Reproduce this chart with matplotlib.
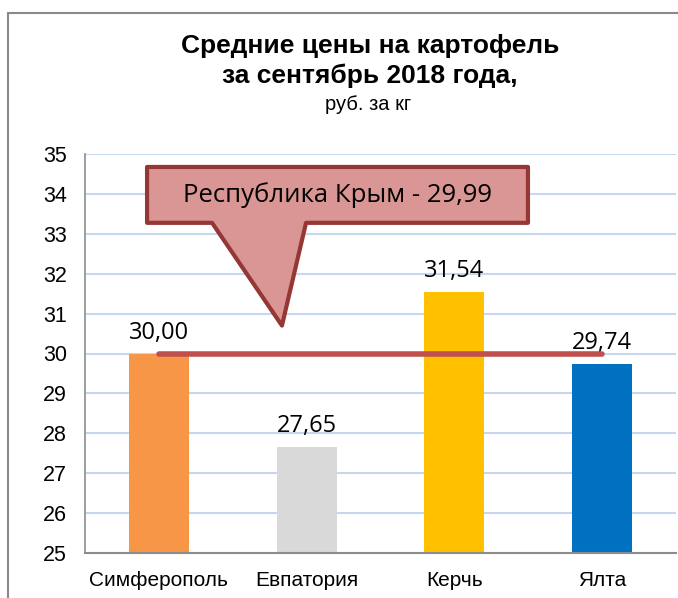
import matplotlib.pyplot as plt
import matplotlib.patches as patches
import numpy as np

# data
cities = ['Симферополь', 'Евпатория', 'Керчь', 'Ялта']
prices = [30.00, 27.65, 31.54, 29.74]
price_labels = ['30,00', '27,65', '31,54', '29,74']
bar_colors = ['#F79646', '#D9D9D9', '#FFC000', '#0070C0']
crimea_avg = 29.99
crimea_label = 'Республика Крым - 29,99'

fig = plt.figure(figsize=(6.78, 5.98), dpi=100)
ax = fig.add_axes([85/678, 45/598, 591/678, 399/598])

x = np.arange(len(cities))
ax.bar(x, prices, width=0.405, color=bar_colors, zorder=2, bottom=0)

ax.set_ylim(25, 35)
ax.set_xlim(-0.5, 3.5)
ax.set_yticks(range(25, 36))
ax.set_xticks(x)
ax.set_xticklabels(cities, fontsize=15, family='Liberation Sans')
for lbl in ax.get_yticklabels():
    lbl.set_family('Liberation Sans')
    lbl.set_fontsize(15.5)
ax.tick_params(axis='y', length=0, pad=13)
ax.tick_params(axis='x', length=0, pad=13)
ax.grid(axis='y', color='#C6D7EE', lw=1.5, zorder=0)
for s in ['top', 'right']:
    ax.spines[s].set_visible(False)
ax.spines['left'].set_color('#8C8C8C')
ax.spines['bottom'].set_color('#8C8C8C')
ax.spines['left'].set_linewidth(1.2)
ax.spines['bottom'].set_linewidth(1.5)

# value labels
for xi, p, t in zip(x, prices, price_labels):
    ax.text(xi, p + 0.22, t, ha='center', va='bottom', fontsize=17,
            family='Open Sans', color='black')

# average line
ax.plot([x[0], x[-1]], [crimea_avg, crimea_avg], color='#C0504D', lw=4,
        solid_capstyle='round', zorder=3)

# callout box
x0, x1, yt, yb = -0.08, 2.498, 34.675, 33.275
b1, b2, tx, ty = 0.36, 0.996, 0.833, 30.7
verts = [(x0, yt), (x1, yt), (x1, yb), (b2, yb), (tx, ty), (b1, yb), (x0, yb)]
call = patches.Polygon(verts, closed=True, facecolor='#D99694', edgecolor='#953735',
                       lw=3, joinstyle='round', zorder=4)
ax.add_patch(call)
ax.text((x0 + x1) / 2, (yt + yb) / 2, crimea_label, ha='center', va='center',
        fontsize=18.5, family='Open Sans', zorder=5)

# titles
fig.text(370/678, 1 - 46/598, 'Средние цены на картофель', ha='center', va='center',
         fontsize=19, fontweight='bold', family='Liberation Sans')
fig.text(370/678, 1 - 76/598, 'за сентябрь 2018 года,', ha='center', va='center',
         fontsize=19, fontweight='bold', family='Liberation Sans')
fig.text(368/678, 1 - 104/598, 'руб. за кг', ha='center', va='center',
         fontsize=14.5, family='Liberation Sans')

# chart area frame
frame = patches.Rectangle((8/678, -0.1), 1.2, 1 - 13/598 + 0.1, transform=fig.transFigure,
                          fill=False, edgecolor='#8A8A8A', lw=1.5, clip_on=False)
fig.patches.append(frame)

fig.savefig('out.png', dpi=100)
